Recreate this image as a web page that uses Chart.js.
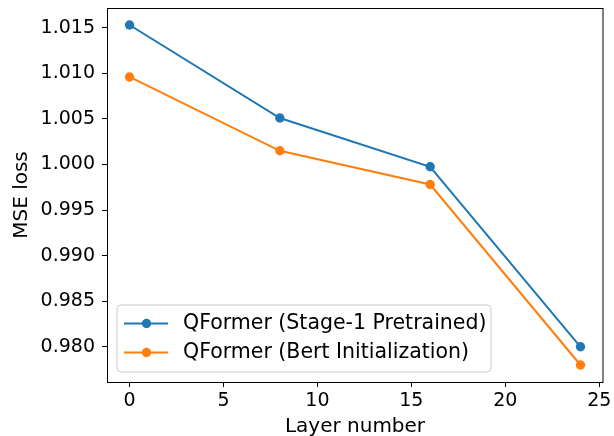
<!DOCTYPE html>
<html>
<head>
<meta charset="utf-8">
<script src="https://cdn.jsdelivr.net/npm/chart.js@4/dist/chart.umd.min.js"></script>
<style>
html,body{margin:0;padding:0;background:#fff;}
#wrap{width:614px;height:436px;position:relative;}
</style>
</head>
<body>
<div id="wrap"><canvas id="c" width="614" height="436"></canvas></div>
<script>
const layers = [0, 8, 16, 24];
const stage1Loss = [1.0153, 1.0051, 0.99975, 0.9800];
const bertLoss = [1.0096, 1.0015, 0.9978, 0.9780];
const seriesLabels = ['QFormer (Stage-1 Pretrained)', 'QFormer (Bert Initialization)'];
const xTicks = [0, 5, 10, 15, 20, 25];
const yTicks = [0.980, 0.985, 0.990, 0.995, 1.000, 1.005, 1.010, 1.015];
const xTitle = 'Layer number';
const yTitle = 'MSE loss';

const FONT = 'DejaVu Sans';
const BLUE = '#1f77b4', ORANGE = '#ff7f0e';

const allY = stage1Loss.concat(bertLoss);
const yLo = Math.min(...allY), yHi = Math.max(...allY);
const yPad = (yHi - yLo) * 0.05;
const xLo = Math.min(...layers), xHi = Math.max(...layers);
const xPad = (xHi - xLo) * 0.05;

function pts(ys){ return layers.map((x,i)=>({x:x, y:ys[i]})); }

const framePlugin = {
  id: 'frame',
  afterDraw(chart){
    const ctx = chart.ctx, a = chart.chartArea;
    ctx.save();
    ctx.strokeStyle = '#000';
    ctx.lineWidth = 1;
    ctx.strokeRect(Math.round(a.left)+0.5, Math.round(a.top)+0.5, Math.round(a.right-a.left)-1+0.5, Math.round(a.bottom-a.top));
    // axis titles
    ctx.fillStyle = '#000';
    ctx.font = '20px "' + FONT + '"';
    ctx.textAlign = 'center';
    ctx.textBaseline = 'alphabetic';
    ctx.fillText(xTitle, (a.left + a.right)/2, 432);
    ctx.save();
    ctx.translate(27, (a.top + a.bottom)/2);
    ctx.rotate(-Math.PI/2);
    ctx.fillText(yTitle, 0, 0);
    ctx.restore();
    // legend
    const bx = 117, by = 305, bw = 374, bh = 67, r = 4;
    ctx.beginPath();
    ctx.moveTo(bx+r, by);
    ctx.lineTo(bx+bw-r, by); ctx.quadraticCurveTo(bx+bw, by, bx+bw, by+r);
    ctx.lineTo(bx+bw, by+bh-r); ctx.quadraticCurveTo(bx+bw, by+bh, bx+bw-r, by+bh);
    ctx.lineTo(bx+r, by+bh); ctx.quadraticCurveTo(bx, by+bh, bx, by+bh-r);
    ctx.lineTo(bx, by+r); ctx.quadraticCurveTo(bx, by, bx+r, by);
    ctx.closePath();
    ctx.fillStyle = 'rgba(255,255,255,0.8)';
    ctx.fill();
    ctx.strokeStyle = '#cccccc';
    ctx.lineWidth = 1;
    ctx.stroke();
    const rows = [323.5, 352.5];
    chart.data.datasets.forEach((ds, i) => {
      const y = rows[i];
      ctx.strokeStyle = ds.borderColor;
      ctx.lineWidth = 2;
      ctx.beginPath(); ctx.moveTo(124, y); ctx.lineTo(168, y); ctx.stroke();
      ctx.fillStyle = ds.borderColor;
      ctx.beginPath(); ctx.arc(146.5, y, 4.7, 0, Math.PI*2); ctx.fill();
      ctx.fillStyle = '#000';
      ctx.font = '20.5px "' + FONT + '"';
      ctx.textAlign = 'left';
      ctx.textBaseline = 'middle';
      ctx.fillText(ds.label, 183, y);
    });
    ctx.restore();
  }
};

new Chart(document.getElementById('c'), {
  type: 'line',
  data: {
    datasets: [
      { label: seriesLabels[0], data: pts(stage1Loss), borderColor: BLUE, backgroundColor: BLUE,
        borderWidth: 2, pointRadius: 4.7, pointBorderWidth: 0, pointBackgroundColor: BLUE, tension: 0 },
      { label: seriesLabels[1], data: pts(bertLoss), borderColor: ORANGE, backgroundColor: ORANGE,
        borderWidth: 2, pointRadius: 4.7, pointBorderWidth: 0, pointBackgroundColor: ORANGE, tension: 0 }
    ]
  },
  options: {
    responsive: false,
    animation: false,
    devicePixelRatio: 1,
    layout: { padding: { top: 8, right: 11, left: 0, bottom: 0 } },
    plugins: { legend: { display: false }, tooltip: { enabled: false } },
    scales: {
      x: {
        type: 'linear',
        min: xLo - xPad, max: xHi + xPad,
        afterBuildTicks(s){ s.ticks = xTicks.map(v=>({value:v})); },
        afterFit(s){ s.height = 54; s.paddingLeft = 0; s.paddingRight = 0; },
        grid: { display: true, drawOnChartArea: false, drawTicks: true, tickLength: 5, color: '#000', tickWidth: 1 },
        border: { display: false },
        ticks: { color: '#000', font: { family: FONT, size: 19 }, padding: 3, maxRotation: 0, autoSkip: false,
                 callback: v => String(v) }
      },
      y: {
        type: 'linear',
        min: yLo - yPad, max: yHi + yPad,
        afterBuildTicks(s){ s.ticks = yTicks.map(v=>({value:v})); },
        afterFit(s){ s.width = 107; s.paddingTop = 0; s.paddingBottom = 0; },
        grid: { display: true, drawOnChartArea: false, drawTicks: true, tickLength: 5, color: '#000', tickWidth: 1 },
        border: { display: false },
        ticks: { color: '#000', font: { family: FONT, size: 19 }, padding: 7, autoSkip: false,
                 callback: v => Number(v).toFixed(3) }
      }
    }
  },
  plugins: [framePlugin]
});
</script>
</body>
</html>
